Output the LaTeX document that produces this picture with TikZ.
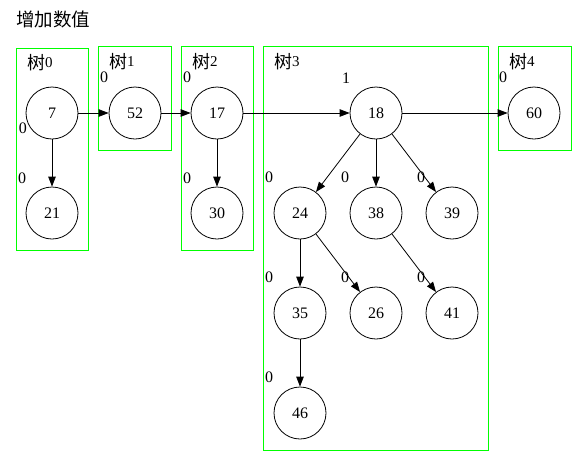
\documentclass[tikz,border=0pt]{standalone}
\usepackage{fontspec}
\setmainfont{Liberation Serif}
\newfontfamily\cjk{Noto Sans CJK SC}
\usetikzlibrary{arrows.meta,positioning}
\newcommand{\treetag}[1]{{\cjk\fontsize{18}{20}\selectfont 树}\raisebox{2pt}{#1}}

\begin{document}
\begin{tikzpicture}[x=1pt,y=-1pt,
    every node/.style={font=\fontsize{16}{18}\selectfont},
    vertex/.style={draw,circle,minimum size=52pt,inner sep=0pt,line width=0.8pt},
    tree/.style={draw=green,line width=0.9pt},
    treename/.style={anchor=base west,inner sep=0pt,font=\fontsize{15}{17}\selectfont},
    deg/.style={inner sep=0pt},
    link/.style={line width=0.8pt,-{Triangle[length=10pt,width=7.5pt]}}]
    \useasboundingbox (0,0) rectangle (587,467);
    \node[anchor=west,inner sep=0pt,font=\fontsize{18.5}{21}\selectfont] (title) at (16,19) {\cjk 增加数值};
    \draw[tree] (16,48) rectangle (88,250);
    \node[treename] (t0) at (27,69.5) {\treetag{0}};
    \draw[tree] (98,46) rectangle (171,150);
    \node[treename] (t1) at (109,68.5) {\treetag{1}};
    \draw[tree] (181,46) rectangle (253,250);
    \node[treename] (t2) at (192,68.5) {\treetag{2}};
    \draw[tree] (263,46) rectangle (488,450);
    \node[treename] (t3) at (274,68.5) {\treetag{3}};
    \draw[tree] (498,46) rectangle (571,150);
    \node[treename] (t4) at (509,68.5) {\treetag{4}};
    \node[vertex] (n7) at (52,113) {7};
    \node[vertex] (n21) at (52,213) {21};
    \node[vertex] (n52) at (135,113) {52};
    \node[vertex] (n17) at (217,113) {17};
    \node[vertex] (n30) at (217,213) {30};
    \node[vertex] (n18) at (376,113) {18};
    \node[vertex] (n60) at (534,113) {60};
    \node[vertex] (n24) at (300,213) {24};
    \node[vertex] (n38) at (376,213) {38};
    \node[vertex] (n39) at (452,213) {39};
    \node[vertex] (n35) at (300,313) {35};
    \node[vertex] (n26) at (376,313) {26};
    \node[vertex] (n41) at (452,313) {41};
    \node[vertex] (n46) at (300,413) {46};
    \node[deg] (d7) at (23,128) {0};
    \node[deg] (d21) at (22,178) {0};
    \node[deg] (d52) at (104,77) {0};
    \node[deg] (d17) at (187,77) {0};
    \node[deg] (d30) at (187,178) {0};
    \node[deg] (d18) at (346,78) {1};
    \node[deg] (d60) at (503,77) {0};
    \node[deg] (d24) at (269,177) {0};
    \node[deg] (d38) at (345,177) {0};
    \node[deg] (d39) at (421,177) {0};
    \node[deg] (d35) at (269,277) {0};
    \node[deg] (d26) at (345,277) {0};
    \node[deg] (d41) at (421,277) {0};
    \node[deg] (d46) at (269,377) {0};
    \draw[link] (n7) -- (n52);
    \draw[link] (n52) -- (n17);
    \draw[link] (n17) -- (n18);
    \draw[link] (n18) -- (n60);
    \draw[link] (n7) -- (n21);
    \draw[link] (n17) -- (n30);
    \draw[link] (n18) -- (n24);
    \draw[link] (n18) -- (n38);
    \draw[link] (n18) -- (n39);
    \draw[link] (n24) -- (n35);
    \draw[link] (n24) -- (n26);
    \draw[link] (n38) -- (n41);
    \draw[link] (n35) -- (n46);
\end{tikzpicture}
\end{document}
